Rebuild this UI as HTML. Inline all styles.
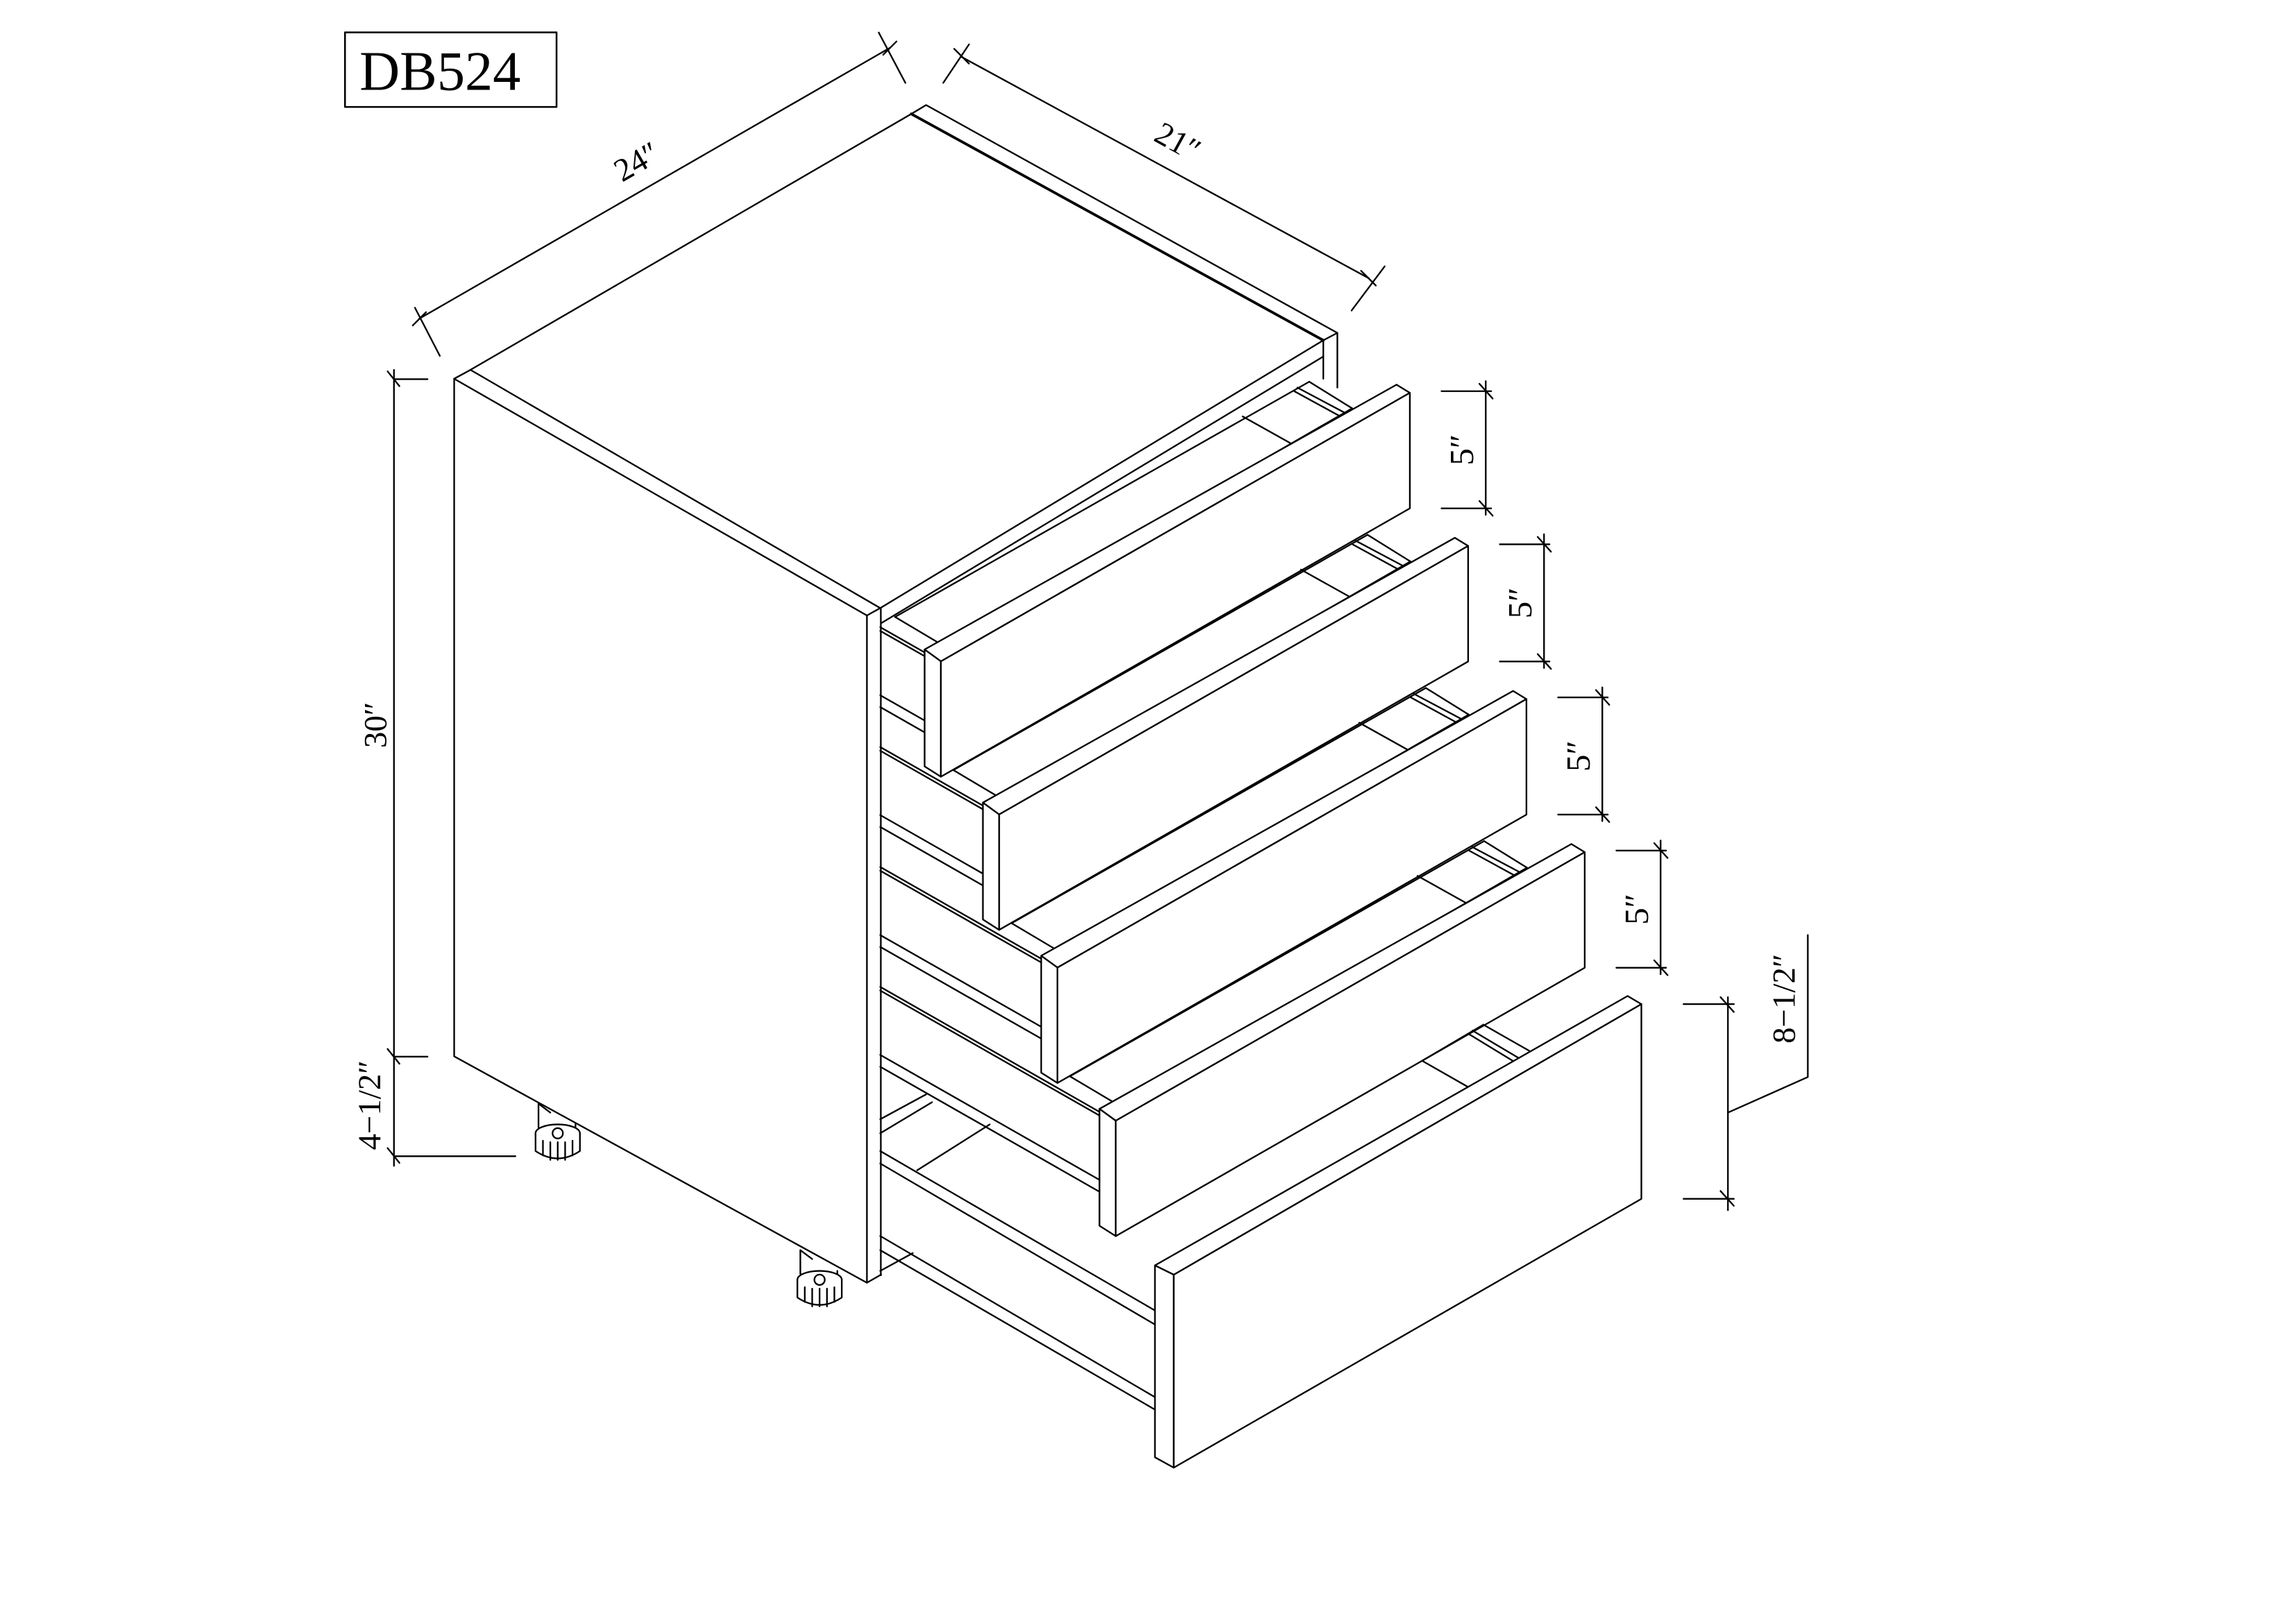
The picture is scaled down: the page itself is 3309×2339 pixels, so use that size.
<!DOCTYPE html>
<html><head><meta charset="utf-8"><style>
html,body{margin:0;padding:0;background:#fff}
svg{display:block}
text{font-family:"Liberation Serif",serif;fill:#000}
</style></head><body>
<svg width="3309" height="2339" viewBox="0 0 1552 1097" preserveAspectRatio="none" xmlns="http://www.w3.org/2000/svg">
<g fill="none" stroke="#000" stroke-width="1.1" stroke-linejoin="round" stroke-linecap="round">

<rect x="233.2" y="21.9" width="143" height="50.4" stroke-width="1.2"/>

<line x1="283.4" y1="215.4" x2="601.6" y2="32.3"/>
<line x1="280.5" y1="208" x2="297.3" y2="240.5"/>
<line x1="594" y1="22" x2="612" y2="56"/>
<line x1="279" y1="220" x2="288" y2="211"/>
<line x1="597" y1="37" x2="606" y2="28"/>

<line x1="650" y1="38.5" x2="925.3" y2="188.1"/>
<line x1="655" y1="30" x2="637.6" y2="56"/>
<line x1="936" y1="180" x2="913.6" y2="209.9"/>
<line x1="645" y1="33" x2="655" y2="43"/>
<line x1="920" y1="183" x2="930" y2="193"/>

<line x1="266.3" y1="250" x2="266.3" y2="788"/>
<line x1="266.3" y1="256.3" x2="289" y2="256.3"/>
<line x1="266.3" y1="714.2" x2="289" y2="714.2"/>
<line x1="266.3" y1="781.5" x2="348.4" y2="781.5"/>
<line x1="262" y1="251" x2="270" y2="261"/>
<line x1="262" y1="709" x2="270" y2="719"/>
<line x1="262" y1="776" x2="270" y2="786"/>

<g id="d5">
<line x1="1004.3" y1="257.6" x2="1004.3" y2="348"/>
<line x1="974.4" y1="264.4" x2="1008" y2="264.4"/>
<line x1="974.4" y1="343.6" x2="1008" y2="343.6"/>
<line x1="1000" y1="259.4" x2="1009" y2="269.4"/>
<line x1="1000" y1="338.6" x2="1009" y2="348.6"/>
</g>
<use href="#d5" transform="translate(39.4,103.5)"/>
<use href="#d5" transform="translate(78.8,207)"/>
<use href="#d5" transform="translate(118.2,310.5)"/>

<line x1="1168" y1="674" x2="1168" y2="818"/>
<line x1="1138" y1="678.7" x2="1172" y2="678.7"/>
<line x1="1138" y1="810.3" x2="1172" y2="810.3"/>
<line x1="1163" y1="674" x2="1172" y2="684"/>
<line x1="1163" y1="805" x2="1172" y2="815"/>
<polyline points="1168,752 1222,728 1222,632"/>

<polyline points="307,256 318,250 616,77 626,71 904,225 894.5,230"/>
<line x1="616" y1="77" x2="894.5" y2="230" stroke-width="1.8"/>
<line x1="307" y1="256" x2="586" y2="416"/>
<line x1="318" y1="250" x2="595" y2="411"/>
<line x1="595" y1="411" x2="894.5" y2="230"/>
<line x1="596" y1="421" x2="894.5" y2="241"/>
<line x1="894.5" y1="230" x2="894.5" y2="256"/>
<line x1="904" y1="225" x2="904" y2="262"/>
<line x1="586" y1="416" x2="595" y2="411"/>

<polyline points="307,256 307,714 586,867 595.6,861.5"/>
<line x1="586" y1="416" x2="586" y2="867"/>
<line x1="595.4" y1="411" x2="595.4" y2="862"/>

<g id="foot">
<path d="M364,746 L364,762 Q377,770 389,762 L389,760" />
<line x1="364" y1="746" x2="372" y2="752"/>
<ellipse cx="377" cy="766" rx="15" ry="6" fill="#fff"/>
<path d="M362,766 L362,778 Q377,788 392,778 L392,766" fill="#fff"/>
<line x1="367" y1="771" x2="367" y2="781"/><line x1="372" y1="772" x2="372" y2="784"/>
<line x1="377" y1="772" x2="377" y2="784"/><line x1="382" y1="772" x2="382" y2="784"/>
<line x1="387" y1="771" x2="387" y2="781"/>
<circle cx="377" cy="766" r="3.5"/>
</g>
<use href="#foot" transform="translate(177,99)"/>

<g>
<line x1="595" y1="423.9" x2="625" y2="441"/><line x1="595" y1="426.4" x2="625" y2="443.5"/>
<line x1="595" y1="469.9" x2="625" y2="487"/><line x1="595" y1="477.9" x2="625" y2="495"/>
<line x1="595" y1="504.9" x2="664.4" y2="544.5"/><line x1="595" y1="507.4" x2="664.4" y2="547"/>
<line x1="595" y1="550.9" x2="664.4" y2="590.5"/><line x1="595" y1="558.9" x2="664.4" y2="598.5"/>
<line x1="595" y1="586" x2="703.8" y2="648"/><line x1="595" y1="588.5" x2="703.8" y2="650.5"/>
<line x1="595" y1="632" x2="703.8" y2="694"/><line x1="595" y1="640" x2="703.8" y2="702"/>
<line x1="595" y1="667" x2="743.2" y2="751.5"/><line x1="595" y1="669.5" x2="743.2" y2="754"/>
<line x1="595" y1="713" x2="743.2" y2="797.5"/><line x1="595" y1="721" x2="743.2" y2="805.5"/>
</g>

<line x1="595" y1="756.5" x2="626" y2="739.7"/>
<line x1="595" y1="766" x2="630" y2="745"/>
<line x1="620" y1="791" x2="669" y2="760"/>
<line x1="595" y1="778" x2="780.6" y2="885.7"/><line x1="595" y1="786.4" x2="780.6" y2="895.2"/>
<line x1="595" y1="835.4" x2="780.6" y2="944.3"/><line x1="595" y1="845" x2="780.6" y2="952.7"/>
<line x1="595" y1="859" x2="617" y2="847"/>

<g id="dr">
<line x1="605" y1="417" x2="885" y2="258"/>
<line x1="605" y1="417" x2="637" y2="436"/>
<line x1="637" y1="436" x2="914" y2="276"/>
<line x1="877" y1="262" x2="910" y2="279.5"/>
<line x1="875" y1="264.5" x2="907" y2="282"/>
<line x1="885" y1="258" x2="914" y2="276"/>
<line x1="840" y1="281.5" x2="874" y2="300.5"/>
<polygon points="625,439 944,260 953,265.5 636,447" fill="#fff"/>
<polygon points="625,439 636,447 636,525 625,518" fill="#fff"/>
<polygon points="636,447 953,265.5 953,343.6 636,525" fill="#fff"/>
</g>
<use href="#dr" transform="translate(39.4,103.5)"/>
<use href="#dr" transform="translate(78.8,207)"/>
<use href="#dr" transform="translate(118.2,310.5)"/>

<line x1="961.3" y1="717" x2="1002.7" y2="692.6"/>
<line x1="961.3" y1="717" x2="992.7" y2="734.9"/>
<line x1="995.4" y1="696.6" x2="1027.7" y2="715.8"/>
<line x1="993" y1="699" x2="1025" y2="718.5"/>
<line x1="1002.7" y1="692.6" x2="1033.6" y2="710.2"/>
<polygon points="780.7,855.3 1100.2,673.2 1109.5,678.7 793.4,861.6" fill="#fff"/>
<polygon points="780.7,855.3 793.4,861.6 793.4,992 780.7,985" fill="#fff"/>
<polygon points="793.4,861.6 1109.5,678.7 1109.5,810.3 793.4,992" fill="#fff"/>
</g>

<text x="243" y="60.7" font-size="38" textLength="109" lengthAdjust="spacingAndGlyphs">DB524</text>
<text x="430.5" y="109.5" font-size="22" text-anchor="middle" dominant-baseline="central" transform="rotate(-30 430.5 109.5)">24″</text>
<text x="796" y="96" font-size="22" text-anchor="middle" dominant-baseline="central" transform="rotate(29 796 96)">21″</text>
<text x="254" y="490" font-size="22" text-anchor="middle" dominant-baseline="central" transform="rotate(-90 254 490)">30″</text>
<text x="250" y="747" font-size="22" text-anchor="middle" dominant-baseline="central" transform="rotate(-90 250 747)">4−1/2″</text>
<text x="1206" y="675" font-size="22" text-anchor="middle" dominant-baseline="central" transform="rotate(-90 1206 675)">8−1/2″</text>
<text x="988" y="304" font-size="23" text-anchor="middle" dominant-baseline="central" transform="rotate(-90 988 304)">5″</text>
<text x="1027.4" y="407.5" font-size="23" text-anchor="middle" dominant-baseline="central" transform="rotate(-90 1027.4 407.5)">5″</text>
<text x="1066.8" y="511" font-size="23" text-anchor="middle" dominant-baseline="central" transform="rotate(-90 1066.8 511)">5″</text>
<text x="1106.2" y="614.5" font-size="23" text-anchor="middle" dominant-baseline="central" transform="rotate(-90 1106.2 614.5)">5″</text>
</svg>
</body></html>
